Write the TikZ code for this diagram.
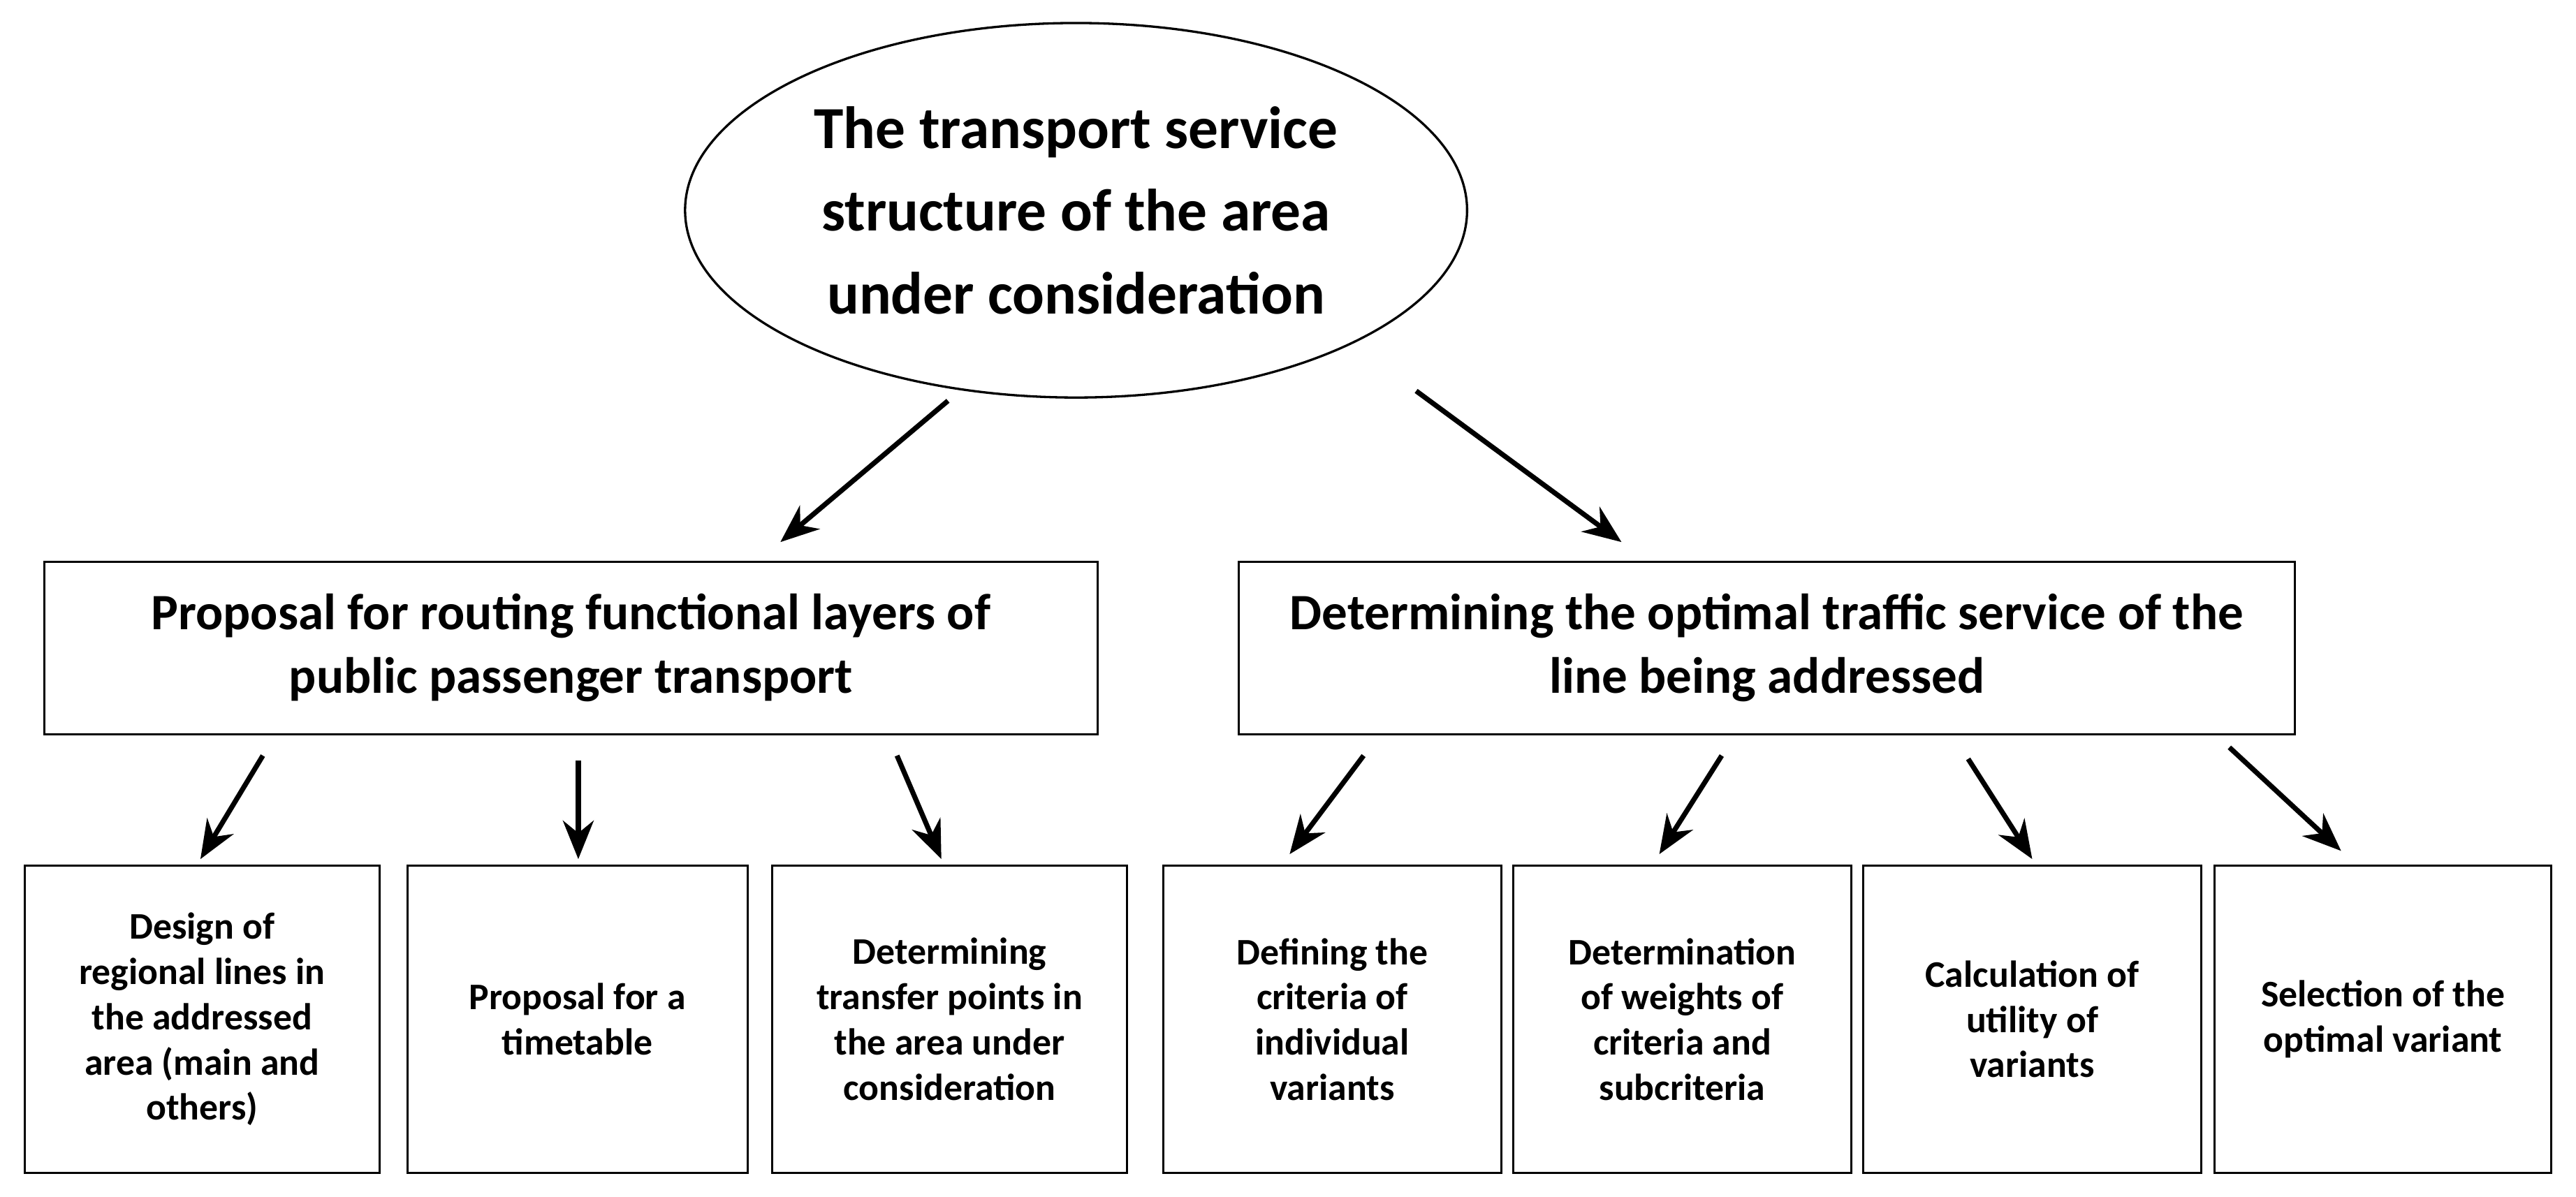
\documentclass[tikz,border=0pt]{standalone}
\usepackage{fontspec}
\setmainfont{Carlito}
\usetikzlibrary{arrows.meta,shapes.geometric}
\begin{document}
\begin{tikzpicture}[x=0.03cm,y=-0.03cm,
  box/.style={draw,line width=1.2pt,inner sep=0pt,align=center,font=\bfseries},
  mid/.style={box,font=\fontsize{26.5}{33}\selectfont\bfseries},
  small/.style={box,font=\fontsize{19.5}{23.5}\selectfont\bfseries},
  arr/.style={line width=2.6pt,-{Stealth[length=20pt,width=16pt]}}]
\useasboundingbox (0,0) rectangle (1568,728.3);
\node[draw,ellipse,line width=1.2pt,inner sep=0pt,minimum width=476*0.03cm,minimum height=228*0.03cm,align=center,font=\fontsize{31}{43}\selectfont\bfseries] (top) at (655,128) {The transport service\\structure of the area\\under consideration};
\node[mid,minimum width=641*0.03cm,minimum height=105*0.03cm] (L) at (347.5,394.5) {Proposal for routing functional layers of\\public passenger transport};
\node[mid,minimum width=643*0.03cm,minimum height=105*0.03cm] (R) at (1075.5,394.5) {Determining the optimal traffic service of the\\line being addressed};
\foreach \n/\a/\b/\t in {b1/15/231/{Design of\\regional lines in\\the addressed\\area (main and\\others)},
 b2/248/455/{Proposal for a\\timetable},
 b3/470/686/{Determining\\transfer points in\\the area under\\consideration},
 b4/708/914/{Defining the\\criteria of\\individual\\variants},
 b5/921/1127/{Determination\\of weights of\\criteria and\\subcriteria},
 b6/1134/1340/{Calculation of\\utility of\\variants},
 b7/1348/1553/{Selection of the\\optimal variant}}
 \node[small,minimum width={(\b-\a)*0.03cm},minimum height=187*0.03cm] (\n) at ({(\a+\b)/2},620.5) {\t};
\foreach \i/\xa/\ya/\xb/\yb in {1/577/244/475/330, 2/862/238/987/330, 3/160/460/122/523, 4/352/463/352/523, 5/546/460/573/523, 6/830/460/785/520, 7/1048/460/1010/520, 8/1198/462/1237/523, 9/1357/455/1425/518}{
 \coordinate (s\i) at (\xa,\ya); \coordinate (e\i) at (\xb,\yb);
 \draw[arr] (s\i) -- (e\i);}
\end{tikzpicture}
\end{document}
